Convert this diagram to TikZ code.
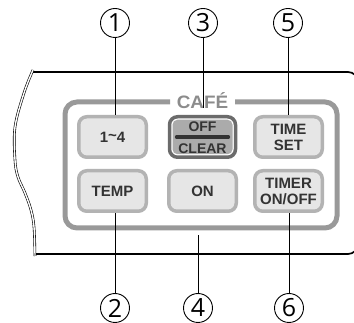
\documentclass[tikz,border=0pt]{standalone}
\usepackage{fontspec}
\setmainfont{Liberation Sans}
\newfontfamily\numfont{Open Sans}
\definecolor{btnfill}{HTML}{E6E6E6}
\definecolor{btnborder}{HTML}{B3B3B3}
\definecolor{framecol}{HTML}{999999}
\definecolor{cafecol}{HTML}{8C8C8C}
\definecolor{darkborder}{HTML}{6B6B6B}
\definecolor{innerfill}{HTML}{ABABAB}
\definecolor{btntext}{HTML}{333333}
\tikzset{
  btn/.style={rectangle, rounded corners=8pt, draw=btnborder, line width=3.5pt, fill=btnfill,
    minimum width=67.5pt, minimum height=40.5pt, inner sep=0pt, text=btntext, align=center,
    font=\bfseries\fontsize{15}{16}\selectfont},
  btntxt/.style={font=\bfseries\fontsize{14}{15}\selectfont, text=btntext, anchor=base, inner sep=0pt},
  callout/.style={circle, draw=black, line width=0.9pt, minimum size=29pt, inner sep=0pt,
    font=\numfont\fontsize{25}{25}\selectfont},
  leader/.style={draw=black, line width=0.9pt},
  housing/.style={draw=black, line width=1.7pt},
  breakline/.style={draw=black, line width=0.6pt, double=white, double distance=1.4pt},
  panelframe/.style={draw=framecol, line width=5pt, rounded corners=12pt}
}
\begin{document}
\begin{tikzpicture}[x=1pt, y=-1pt]
\useasboundingbox (0,0) rectangle (354,323);
% housing
\draw[housing, rounded corners=10pt] (32,72) -- (358,72) -- (358,254) -- (35,254);
\draw[breakline] plot[smooth, tension=0.6] coordinates {(33,70) (24,93) (15,127) (15,160) (18,177) (25,193) (31,210) (34,227) (35,256)};
% panel frame
\draw[panelframe] (235,102) -- (337,102) -- (337,228) -- (65,228) -- (65,102) -- (170,102);
\node[font=\bfseries\fontsize{18}{18}\selectfont, text=cafecol, anchor=base, xscale=1.05, inner sep=0pt] (cafe) at (202.5,109) {CAFÉ};
% buttons
\node[btn] (b1) at (112.5,137) {1\raisebox{0.2ex}{\textasciitilde}4};
\node[rectangle, rounded corners=8pt, draw=darkborder, line width=3.5pt, fill=white,
  minimum width=66pt, minimum height=40.5pt, inner sep=0pt] (b3) at (202.5,137) {};
\node[rectangle, rounded corners=5pt, fill=innerfill, minimum width=60pt, minimum height=34.5pt, inner sep=0pt] (b3in) at (202.5,137) {};
\draw[line width=3.3pt, line cap=round, draw=btntext] ([xshift=-26pt]b3in.center) -- ([xshift=26pt]b3in.center);
\node[btntxt] (off) at (202.5,132) {OFF};
\node[btntxt] (clear) at (202.5,153.5) {CLEAR};
\node[btn] (b5) at (288.5,137) {TIME\\SET};
\node[btn] (b2) at (112.5,191) {TEMP};
\node[btn] (b4) at (202.5,191) {ON};
\node[btn] (b6) at (288.5,191) {TIMER\\ON/OFF};
% callouts
\node[callout] (c1) at (115,23) {1};
\node[callout] (c3) at (203,23) {3};
\node[callout] (c5) at (288,23) {5};
\node[callout] (c2) at (115,308) {2};
\node[callout] (c4) at (198,308) {4};
\node[callout] (c6) at (289,308) {6};
\coordinate (p3) at (203,108);
\coordinate (p4) at (198,235);
\draw[leader] (c1.south) -- (c1.south |- b1.north);
\draw[leader] (c3.south) -- (p3);
\draw[leader] (c5.south) -- (c5.south |- b5.north);
\draw[leader] (c2.north) -- (c2.north |- b2.south);
\draw[leader] (c4.north) -- (p4);
\draw[leader] (c6.north) -- (c6.north |- b6.south);
\end{tikzpicture}
\end{document}
